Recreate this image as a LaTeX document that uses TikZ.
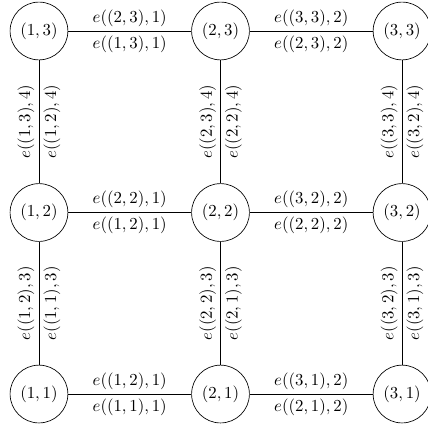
\documentclass[tikz,border=0pt]{standalone}
\usepackage{amsmath,amssymb}
\usetikzlibrary{positioning}

\begin{document}
\begin{tikzpicture}[
    vtx/.style={draw, circle, minimum size=1.21cm, inner sep=1pt},
    lbl/.style={inner sep=2.5pt}
]
\useasboundingbox (-0.816,-0.711) rectangle (8.123,8.249);
\node[vtx] (n11) at (0,0) {$(1,1)$};
\node[vtx] (n21) at (3.8,0) {$(2,1)$};
\node[vtx] (n31) at (7.6,0) {$(3,1)$};
\node[vtx] (n12) at (0,3.8) {$(1,2)$};
\node[vtx] (n22) at (3.8,3.8) {$(2,2)$};
\node[vtx] (n32) at (7.6,3.8) {$(3,2)$};
\node[vtx] (n13) at (0,7.6) {$(1,3)$};
\node[vtx] (n23) at (3.8,7.6) {$(2,3)$};
\node[vtx] (n33) at (7.6,7.6) {$(3,3)$};

% horizontal edges
\draw (n11) -- node[lbl, above] {$e((1,2),1)$} node[lbl, below] {$e((1,1),1)$} (n21);
\draw (n21) -- node[lbl, above] {$e((3,1),2)$} node[lbl, below] {$e((2,1),2)$} (n31);
\draw (n12) -- node[lbl, above] {$e((2,2),1)$} node[lbl, below] {$e((1,2),1)$} (n22);
\draw (n22) -- node[lbl, above] {$e((3,2),2)$} node[lbl, below] {$e((2,2),2)$} (n32);
\draw (n13) -- node[lbl, above] {$e((2,3),1)$} node[lbl, below] {$e((1,3),1)$} (n23);
\draw (n23) -- node[lbl, above] {$e((3,3),2)$} node[lbl, below] {$e((2,3),2)$} (n33);

% vertical edges
\draw (n11) -- node[lbl, above, sloped] {$e((1,2),3)$} node[lbl, below, sloped] {$e((1,1),3)$} (n12);
\draw (n12) -- node[lbl, above, sloped] {$e((1,3),4)$} node[lbl, below, sloped] {$e((1,2),4)$} (n13);
\draw (n21) -- node[lbl, above, sloped] {$e((2,2),3)$} node[lbl, below, sloped] {$e((2,1),3)$} (n22);
\draw (n22) -- node[lbl, above, sloped] {$e((2,3),4)$} node[lbl, below, sloped] {$e((2,2),4)$} (n23);
\draw (n31) -- node[lbl, above, sloped] {$e((3,2),3)$} node[lbl, below, sloped] {$e((3,1),3)$} (n32);
\draw (n32) -- node[lbl, above, sloped] {$e((3,3),4)$} node[lbl, below, sloped] {$e((3,2),4)$} (n33);
\end{tikzpicture}
\end{document}
